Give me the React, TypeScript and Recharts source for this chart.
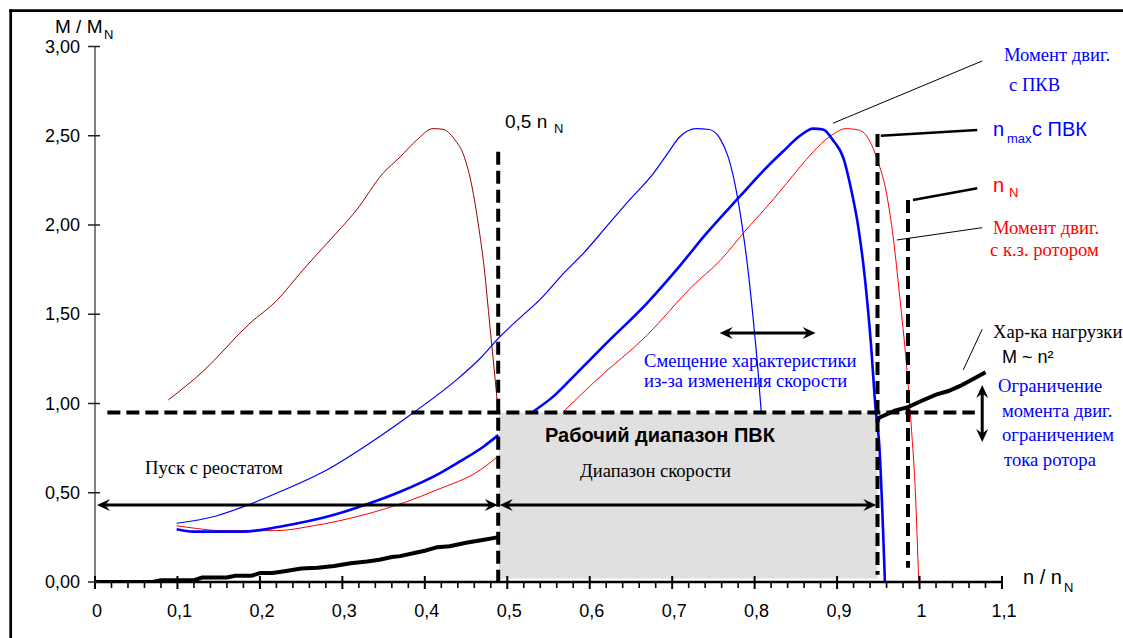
import React from 'react';
import { LineChart, Line, XAxis, YAxis, ReferenceLine, ReferenceArea } from 'recharts';

// ---- axis ticks ----
const xTickValues = [0, 0.1, 0.2, 0.3, 0.4, 0.5, 0.6, 0.7, 0.8, 0.9, 1.0, 1.1];
const xTickLabels = ['0', '0,1', '0,2', '0,3', '0,4', '0,5', '0,6', '0,7', '0,8', '0,9', '1', '1,1'];
const xMinorTicks = Array.from({ length: 56 }, (_, i) => Math.round(i * 2) / 100);
const yTickValues = [0, 0.5, 1, 1.5, 2, 2.5, 3];
const yTickLabels = ['0,00', '0,50', '1,00', '1,50', '2,00', '2,50', '3,00'];

// ---- series (n/nN, M/MN) ----
const brownCurve: [number, number | null][] = [
  [0.089, 1.02], [0.131, 1.18], [0.188, 1.45], [0.22, 1.575], [0.252, 1.747], [0.281, 1.896],
  [0.317, 2.083], [0.349, 2.288], [0.37, 2.381], [0.39, 2.475], [0.41, 2.54], [0.422, 2.536],
  [0.436, 2.48], [0.448, 2.38], [0.457, 2.22], [0.465, 2.0], [0.472, 1.76], [0.479, 1.43],
  [0.485, 1.15], [0.489, 0.954],
];
const thinBlueCurve: [number, number | null][] = [
  [0.099, 0.329], [0.147, 0.37], [0.18, 0.422], [0.22, 0.497], [0.281, 0.627], [0.333, 0.777],
  [0.386, 0.948], [0.438, 1.131], [0.467, 1.252], [0.491, 1.374], [0.519, 1.495], [0.539, 1.579],
  [0.568, 1.728], [0.592, 1.84], [0.62, 1.989], [0.648, 2.139], [0.677, 2.288], [0.693, 2.391],
  [0.709, 2.493], [0.729, 2.54], [0.745, 2.535], [0.758, 2.484], [0.768, 2.38], [0.777, 2.21],
  [0.785, 1.99], [0.792, 1.747], [0.798, 1.485], [0.804, 1.187], [0.808, 0.954],
];
const thickBlueCurve: [number, number | null][] = [
  [0.099, 0.295], [0.119, 0.282], [0.18, 0.282], [0.224, 0.31], [0.289, 0.375], [0.333, 0.441],
  [0.37, 0.506], [0.418, 0.609], [0.442, 0.674], [0.471, 0.758], [0.489, 0.823], [0.51, null],
  [0.531, 0.954], [0.556, 1.04], [0.584, 1.169], [0.62, 1.337], [0.669, 1.56], [0.709, 1.77],
  [0.741, 1.95], [0.782, 2.16], [0.814, 2.32], [0.834, 2.41], [0.855, 2.50], [0.871, 2.54],
  [0.883, 2.535], [0.895, 2.475], [0.908, 2.37], [0.917, 2.2], [0.926, 1.98], [0.934, 1.69],
  [0.941, 1.337], [0.947, 0.954], [0.951, 0.78], [0.958, 0],
];
const redCurve: [number, number | null][] = [
  [0.099, 0.315], [0.123, 0.3], [0.152, 0.288], [0.22, 0.288], [0.265, 0.315], [0.325, 0.375],
  [0.378, 0.45], [0.414, 0.515], [0.467, 0.627], [0.489, 0.705], [0.53, null],
  [0.568, 0.954], [0.608, 1.131], [0.669, 1.38], [0.725, 1.66], [0.758, 1.80], [0.79, 1.975],
  [0.822, 2.14], [0.855, 2.325], [0.871, 2.41], [0.891, 2.495], [0.911, 2.54], [0.927, 2.531],
  [0.939, 2.475], [0.949, 2.363], [0.96, 2.176], [0.968, 1.933], [0.976, 1.597], [0.984, 1.224],
  [0.99, 0.87], [0.995, 0.497], [0.999, 0],
];
const loadCurve: [number, number | null][] = [
  [0, 0], [0.07, 0], [0.08, 0.01], [0.12, 0.01], [0.13, 0.025], [0.16, 0.025], [0.17, 0.035],
  [0.19, 0.035], [0.2, 0.05], [0.215, 0.05], [0.23, 0.06], [0.25, 0.075], [0.27, 0.08],
  [0.29, 0.09], [0.31, 0.105], [0.33, 0.115], [0.345, 0.125], [0.36, 0.14], [0.37, 0.145],
  [0.39, 0.165], [0.4, 0.175], [0.415, 0.195], [0.43, 0.2], [0.45, 0.22], [0.47, 0.235],
  [0.488, 0.25], [0.7, null],
  [0.949, 0.9], [0.951, 0.92], [0.97, 0.96], [0.986, 0.98], [1.0, 1.01], [1.02, 1.05],
  [1.035, 1.07], [1.05, 1.1], [1.08, 1.175],
];

// ---- reference values ----
const limitTorque = 0.95;
const nHalf = 0.489;
const nMax = 0.949;
const nNom = 0.986;
const rangeArrowY = 0.431;

const toData = (pts: [number, number | null][]) => pts.map(([x, y]) => ({ x, y }));

const SANS = "'Liberation Sans', Arial, sans-serif";
const SERIF = "'Liberation Serif', 'Times New Roman', serif";
const SERIF_SIZE = 18.6;
const BLUE = '#0000FF';
const RED = '#FF0000';

const XTick = (props: any) => {
  const { x, y, payload } = props;
  const v = payload.value;
  const idx = xTickValues.findIndex((t) => Math.abs(t - v) < 1e-6);
  if (idx >= 0) {
    return (
      <g>
        <line x1={x} x2={x} y1={y - 6} y2={y + 7} stroke="#000" strokeWidth={2} />
        <text x={x + 2} y={y + 35} textAnchor="middle" fontFamily={SANS} fontSize={18} fill="#000">
          {xTickLabels[idx]}
        </text>
      </g>
    );
  }
  return <line x1={x} x2={x} y1={y} y2={y + 6} stroke="#000" strokeWidth={1.6} />;
};

const YTick = (props: any) => {
  const { x, y, payload } = props;
  const idx = yTickValues.findIndex((t) => Math.abs(t - payload.value) < 1e-6);
  return (
    <g>
      <line x1={x - 7} x2={x + 5} y1={y} y2={y} stroke="#222" strokeWidth={1.5} />
      <text x={x - 15} y={y + 6} textAnchor="end" fontFamily={SANS} fontSize={18} fill="#000">
        {idx >= 0 ? yTickLabels[idx] : ''}
      </text>
    </g>
  );
};

const arrowShape = (props: any) => {
  const { x1, y1, x2, y2 } = props;
  const dx = x2 - x1;
  const dy = y2 - y1;
  const len = Math.hypot(dx, dy) || 1;
  const ux = dx / len;
  const uy = dy / len;
  const L = 13;
  const W = 6;
  const head = (px: number, py: number, dxh: number, dyh: number) => {
    const bx = px - dxh * L;
    const by = py - dyh * L;
    const nx = bx + dxh * L * 0.35;
    const ny = by + dyh * L * 0.35;
    return `${px},${py} ${bx - dyh * W},${by + dxh * W} ${nx},${ny} ${bx + dyh * W},${by - dxh * W}`;
  };
  return (
    <g>
      <line x1={x1 + ux * L * 0.6} y1={y1 + uy * L * 0.6} x2={x2 - ux * L * 0.6} y2={y2 - uy * L * 0.6} stroke="#000" strokeWidth={3} />
      <polygon points={head(x2, y2, ux, uy)} fill="#000" />
      <polygon points={head(x1, y1, -ux, -uy)} fill="#000" />
    </g>
  );
};

const dashProps = { stroke: '#000', strokeWidth: 4, strokeDasharray: '13 6', ifOverflow: 'visible' as const };

export default function App() {
  return (
    <div style={{ position: 'relative', width: 1123, height: 638, background: '#fff' }}>
      <style>{`body{margin:0;overflow:hidden;background:#fff}`}</style>
      <LineChart width={1123} height={638} margin={{ top: 46.5, right: 121, bottom: 16, left: 35 }}>
        <XAxis
          type="number"
          dataKey="x"
          domain={[0, 1.1]}
          ticks={xMinorTicks}
          interval={0}
          allowDataOverflow
          tickSize={0}
          tickMargin={0}
          tickLine={false}
          tick={(p: any) => <XTick {...p} />}
          axisLine={{ stroke: '#000', strokeWidth: 2.5 }}
          height={40}
        />
        <YAxis
          type="number"
          domain={[0, 3]}
          ticks={yTickValues}
          interval={0}
          allowDataOverflow
          tickSize={0}
          tickMargin={0}
          tickLine={false}
          tick={(p: any) => <YTick {...p} />}
          axisLine={{ stroke: '#808080', strokeWidth: 2 }}
          width={60}
        />
        <ReferenceArea x1={nHalf + 0.001} x2={nMax} y1={0.02} y2={limitTorque} fill="#e0e0e0" fillOpacity={1} stroke="none" ifOverflow="visible" />
        <Line data={toData(brownCurve)} dataKey="y" type="monotone" stroke="#990000" strokeWidth={1} dot={false} activeDot={false} isAnimationActive={false} />
        <Line data={toData(thinBlueCurve)} dataKey="y" type="monotone" stroke={BLUE} strokeWidth={1.2} dot={false} activeDot={false} isAnimationActive={false} />
        <Line data={toData(redCurve)} dataKey="y" type="monotone" stroke={RED} strokeWidth={1} dot={false} activeDot={false} isAnimationActive={false} />
        <Line data={toData(thickBlueCurve)} dataKey="y" type="monotone" stroke={BLUE} strokeWidth={2.6} dot={false} activeDot={false} isAnimationActive={false} />
        <Line data={toData(loadCurve)} dataKey="y" type="linear" stroke="#000" strokeWidth={4} dot={false} activeDot={false} isAnimationActive={false} />

        <ReferenceLine segment={[{ x: 0.015, y: limitTorque }, { x: 1.067, y: limitTorque }]} {...dashProps} />
        <ReferenceLine segment={[{ x: nHalf, y: 2.41 }, { x: nHalf, y: -0.03 }]} {...dashProps} />
        <ReferenceLine segment={[{ x: nMax, y: 2.51 }, { x: nMax, y: 0.04 }]} {...dashProps} />
        <ReferenceLine segment={[{ x: nNom, y: 2.14 }, { x: nNom, y: 0.08 }]} {...dashProps} />

        <ReferenceLine segment={[{ x: 0.953, y: 2.5 }, { x: 1.07, y: 2.532 }]} stroke="#000" strokeWidth={2.5} ifOverflow="visible" />
        <ReferenceLine segment={[{ x: 0.992, y: 2.14 }, { x: 1.07, y: 2.206 }]} stroke="#000" strokeWidth={2.5} ifOverflow="visible" />
        <ReferenceLine segment={[{ x: 0.895, y: 2.57 }, { x: 1.076, y: 2.919 }]} stroke="#000" strokeWidth={1} ifOverflow="visible" />
        <ReferenceLine segment={[{ x: 0.9725, y: 1.916 }, { x: 1.076, y: 1.985 }]} stroke="#000" strokeWidth={1} ifOverflow="visible" />
        <ReferenceLine segment={[{ x: 1.053, y: 1.188 }, { x: 1.076, y: 1.416 }]} stroke="#000" strokeWidth={1} ifOverflow="visible" />

        <ReferenceLine segment={[{ x: 0.0024, y: rangeArrowY }, { x: 0.4885, y: rangeArrowY }]} shape={arrowShape} ifOverflow="visible" />
        <ReferenceLine segment={[{ x: 0.4909, y: rangeArrowY }, { x: 0.9475, y: rangeArrowY }]} shape={arrowShape} ifOverflow="visible" />
        <ReferenceLine segment={[{ x: 0.7576, y: 1.395 }, { x: 0.874, y: 1.395 }]} shape={arrowShape} ifOverflow="visible" />
        <ReferenceLine segment={[{ x: 1.076, y: 1.104 }, { x: 1.076, y: 0.784 }]} shape={arrowShape} ifOverflow="visible" />
      </LineChart>

      <svg width={1123} height={638} style={{ position: 'absolute', left: 0, top: 0, pointerEvents: 'none' }}>
        <line x1={10.7} y1={9.3} x2={10.7} y2={638} stroke="#000" strokeWidth={2.7} />
        <line x1={9.3} y1={10.7} x2={1123} y2={10.7} stroke="#000" strokeWidth={2.7} />

        <text x={55} y={33} fontFamily={SANS} fontSize={19} fill="#000">M / M</text>
        <text x={104} y={39} fontFamily={SANS} fontSize={13} fill="#000">N</text>

        <text x={1023} y={584} fontFamily={SANS} fontSize={20} fill="#000">n / n</text>
        <text x={1064} y={592} fontFamily={SANS} fontSize={13} fill="#000">N</text>

        <text x={505} y={128} fontFamily={SANS} fontSize={19} fill="#000">0,5 n</text>
        <text x={554} y={133} fontFamily={SANS} fontSize={13} fill="#000">N</text>

        <text x={1004} y={61} fontFamily={SERIF} fontSize={SERIF_SIZE} fill={BLUE}>Момент двиг.</text>
        <text x={1009} y={91} fontFamily={SERIF} fontSize={SERIF_SIZE} fill={BLUE}>с ПКВ</text>

        <text x={993} y={136} fontFamily={SANS} fontSize={20} fill={BLUE}>n</text>
        <text x={1007} y={143} fontFamily={SANS} fontSize={13} fill={BLUE}>max</text>
        <text x={1032} y={136} fontFamily={SANS} fontSize={20} fill={BLUE}>с ПВК</text>

        <text x={993} y={192} fontFamily={SANS} fontSize={20} fill={RED}>n</text>
        <text x={1009} y={197} fontFamily={SANS} fontSize={13} fill={RED}>N</text>

        <text x={993} y={234} fontFamily={SERIF} fontSize={SERIF_SIZE} fill={RED}>Момент двиг.</text>
        <text x={990} y={256} fontFamily={SERIF} fontSize={SERIF_SIZE} fill={RED}>с к.з. ротором</text>

        <text x={993} y={338} fontFamily={SERIF} fontSize={SERIF_SIZE} fill="#000">Хар-ка нагрузки</text>
        <text x={1002} y={363} fontFamily={SANS} fontSize={18} fill="#000">M ~ n²</text>

        <text x={998} y={392} fontFamily={SERIF} fontSize={SERIF_SIZE} fill={BLUE}>Ограничение</text>
        <text x={1002} y={417} fontFamily={SERIF} fontSize={SERIF_SIZE} fill={BLUE}>момента двиг.</text>
        <text x={1002} y={441} fontFamily={SERIF} fontSize={SERIF_SIZE} fill={BLUE}>ограничением</text>
        <text x={1004} y={466} fontFamily={SERIF} fontSize={SERIF_SIZE} fill={BLUE}>тока ротора</text>

        <text x={644} y={367} fontFamily={SERIF} fontSize={SERIF_SIZE} fill={BLUE}>Смещение характеристики</text>
        <text x={644} y={387} fontFamily={SERIF} fontSize={SERIF_SIZE} fill={BLUE}>из-за изменения скорости</text>

        <text x={545} y={442} fontFamily={SANS} fontSize={20} fontWeight="bold" fill="#000">Рабочий диапазон ПВК</text>
        <text x={580} y={477} fontFamily={SERIF} fontSize={SERIF_SIZE} fill="#000">Диапазон скорости</text>
        <text x={145} y={474} fontFamily={SERIF} fontSize={SERIF_SIZE} fill="#000">Пуск с реостатом</text>
      </svg>
    </div>
  );
}
